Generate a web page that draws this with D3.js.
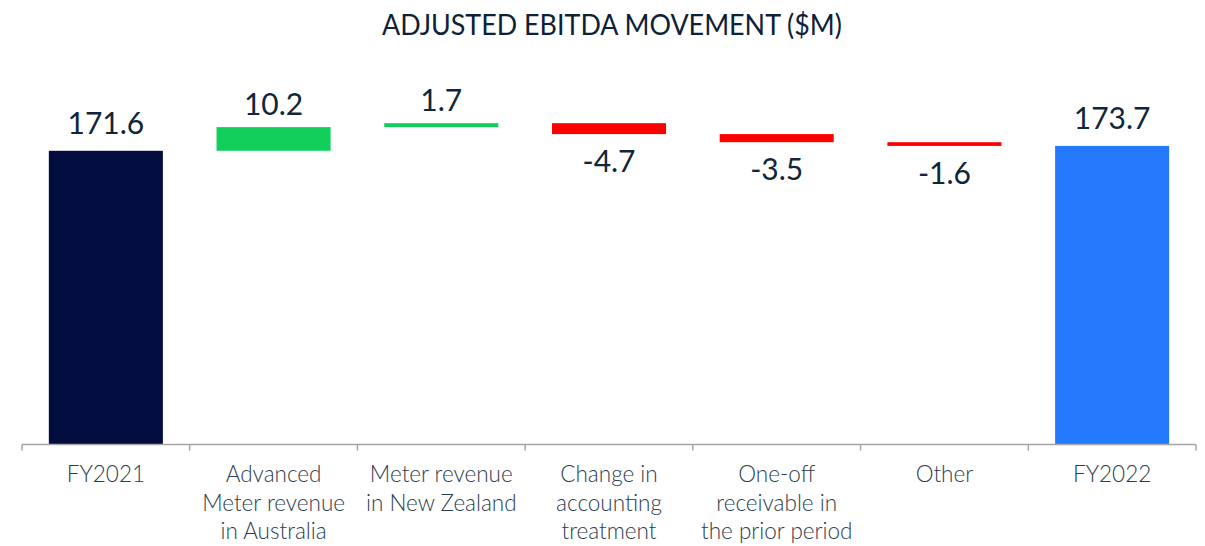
<!DOCTYPE html>
<html>
<head>
<meta charset="utf-8">
<script src="https://cdn.jsdelivr.net/npm/d3@7"></script>
<style>
  body { margin: 0; background: #fff; }
  svg { display: block; }
</style>
</head>
<body>
<script>
(function (d3) {
	'use strict';

	var width = 1205,
	    height = 546;

	// chart data
	var categories = ['FY2021', 'Advanced\nMeter revenue\nin Australia', 'Meter revenue\nin New Zealand',
		'Change in\naccounting\ntreatment', 'One-off\nreceivable in\nthe prior period', 'Other', 'FY2022'];
	var values = [171.6, 10.2, 1.7, -4.7, -3.5, -1.6, 173.7];
	var kinds = ['start', 'delta', 'delta', 'delta', 'delta', 'delta', 'end'];
	var valueLabels = ['171.6', '10.2', '1.7', '-4.7', '-3.5', '-1.6', '173.7'];

	var colors = { start: '#020c3e', end: '#2479fd', up: '#12cf5b', down: '#ff0000' };

	// build waterfall steps
	var running = 0;
	var steps = values.map(function (v, i) {
		var s = { cat: categories[i], label: valueLabels[i], kind: kinds[i], value: v };
		if (kinds[i] === 'delta') {
			s.y0 = running;
			s.y1 = running + v;
			running = s.y1;
		} else {
			s.y0 = 0;
			s.y1 = v;
			running = v;
		}
		return s;
	});

	var svg = d3.select('body')
		.append('svg')
		.attr('width', width)
		.attr('height', height);

	var baseY = 444.5;

	var x = d3.scaleBand()
		.domain(categories)
		.range([22, 1196])
		.paddingInner(0.32)
		.paddingOuter(0.16);

	// axis does not start at zero in the original
	var y = d3.scaleLinear()
		.domain([45, 190])
		.range([baseY, baseY - 145 * 2.32]);

	// title
	svg.append('text')
		.attr('x', 612)
		.attr('y', 35)
		.attr('text-anchor', 'middle')
		.attr('font-family', 'Lato, sans-serif')
		.attr('font-size', 29)
		.attr('textLength', 460)
		.attr('lengthAdjust', 'spacingAndGlyphs')
		.style('fill', '#0e2136')
		.text('ADJUSTED EBITDA MOVEMENT ($M)');

	function fillFn(d) {
		if (d.kind === 'start') return colors.start;
		if (d.kind === 'end') return colors.end;
		return d.value >= 0 ? colors.up : colors.down;
	}

	function top(d) {
		return y(Math.max(d.y0, d.y1));
	}
	function bottom(d) {
		return d.kind === 'delta' ? y(Math.min(d.y0, d.y1)) : baseY;
	}

	svg.selectAll('rect.bar')
		.data(steps)
		.enter()
		.append('rect')
		.attr('class', 'bar')
		.attr('x', function (d) { return x(d.cat); })
		.attr('width', x.bandwidth())
		.attr('y', top)
		.attr('height', function (d) { return Math.max(2, bottom(d) - top(d)); })
		.style('fill', fillFn);

	// value labels
	svg.selectAll('text.val')
		.data(steps)
		.enter()
		.append('text')
		.attr('class', 'val')
		.attr('x', function (d) { return x(d.cat) + x.bandwidth() / 2; })
		.attr('y', function (d) {
			if (d.value < 0) return bottom(d) + 38;
			return top(d) - (d.kind === 'delta' ? 12 : 17);
		})
		.attr('text-anchor', 'middle')
		.attr('font-family', 'Lato, sans-serif')
		.attr('font-size', 30)
		.style('fill', '#10263a')
		.text(function (d) { return d.label; });

	// x axis line with ticks between categories
	var step = x.step(),
	    x0 = x.range()[0];

	var axis = svg.append('g').attr('class', 'axis');
	axis.append('line')
		.attr('x1', x0)
		.attr('x2', x.range()[1])
		.attr('y1', baseY)
		.attr('y2', baseY)
		.style('stroke', '#a6a6a6')
		.style('stroke-width', 1.5);

	axis.selectAll('line.tick')
		.data(d3.range(categories.length + 1))
		.enter()
		.append('line')
		.attr('class', 'tick')
		.attr('x1', function (i) { return x0 + i * step; })
		.attr('x2', function (i) { return x0 + i * step; })
		.attr('y1', baseY)
		.attr('y2', baseY + 6)
		.style('stroke', '#a6a6a6')
		.style('stroke-width', 1.5);

	// category labels, wrapped by hand
	var catText = axis.selectAll('text.cat')
		.data(categories)
		.enter()
		.append('text')
		.attr('class', 'cat')
		.attr('text-anchor', 'middle')
		.attr('font-family', 'Lato, sans-serif')
		.attr('font-weight', 300)
		.attr('font-size', 22.5)
		.style('fill', '#2c3d4f');

	catText.selectAll('tspan')
		.data(function (d) {
			var cx = x(d) + x.bandwidth() / 2;
			return d.split('\n').map(function (t, i) { return { t: t, i: i, cx: cx }; });
		})
		.enter()
		.append('tspan')
		.attr('x', function (d) { return d.cx; })
		.attr('y', function (d) { return 482 + d.i * 28.7; })
		.text(function (d) { return d.t; });

})(d3);
</script>
</body>
</html>
